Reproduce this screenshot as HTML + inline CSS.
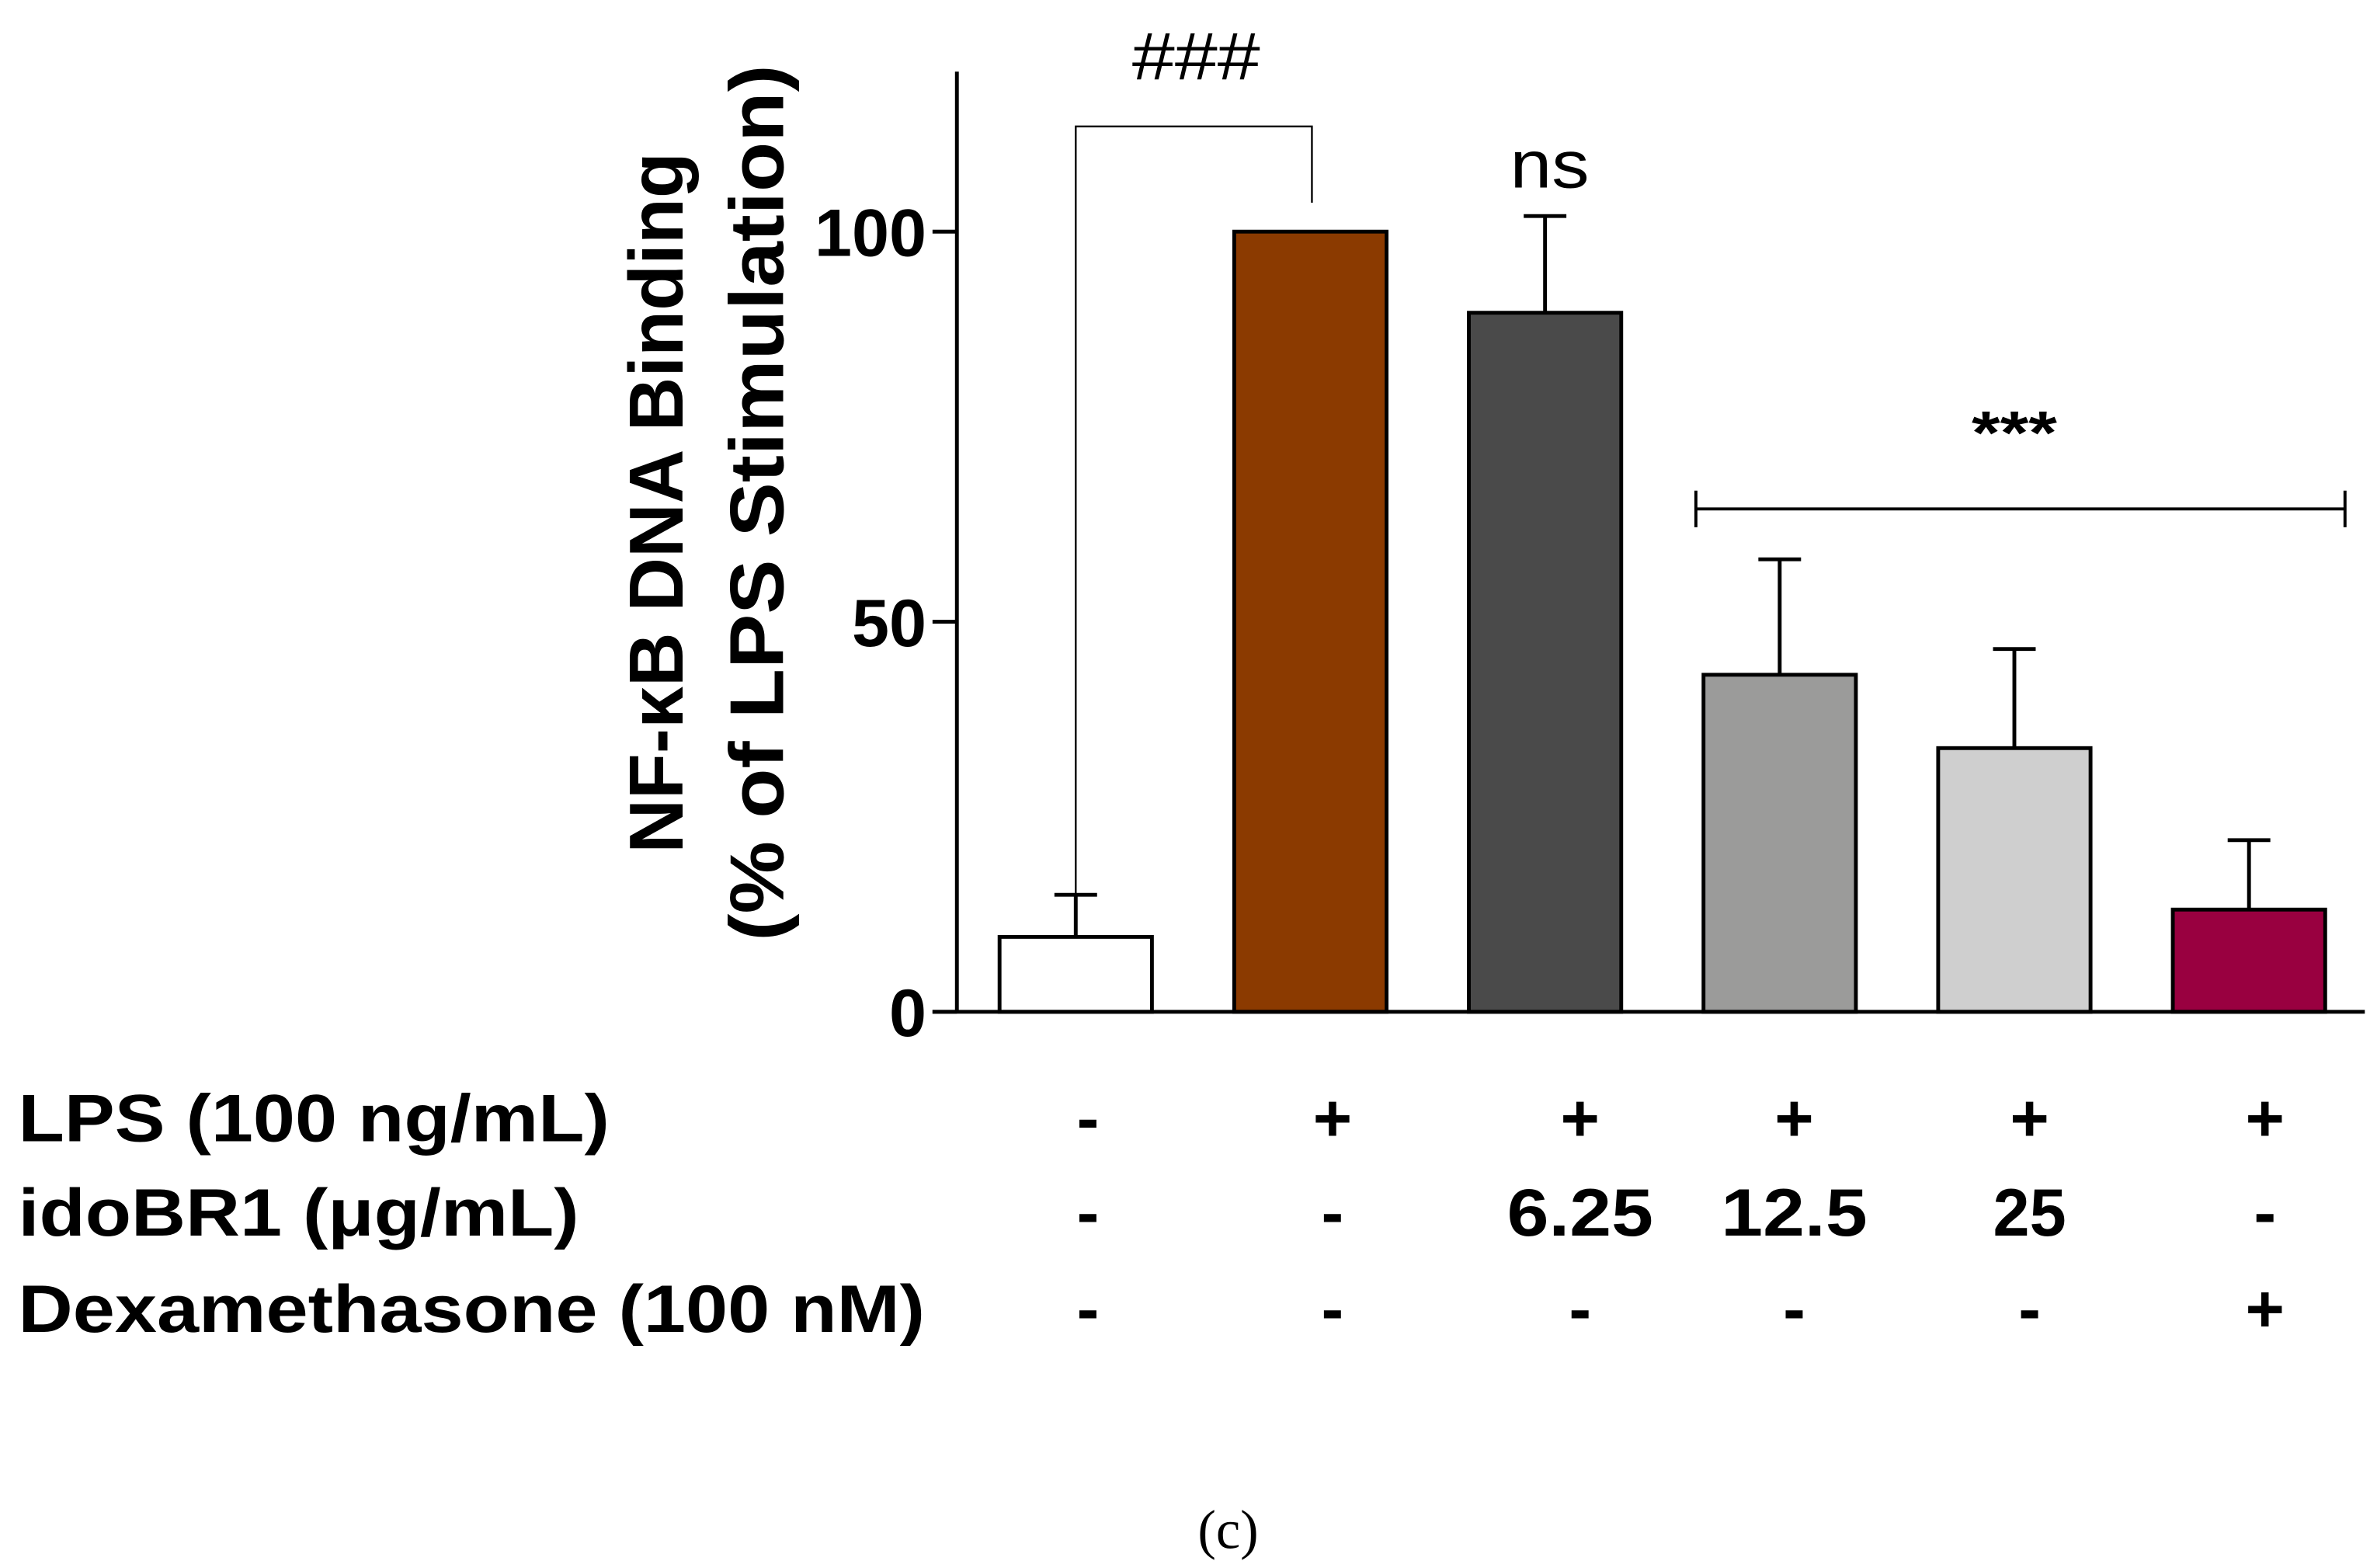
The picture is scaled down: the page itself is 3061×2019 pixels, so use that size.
<!DOCTYPE html>
<html><head><meta charset="utf-8"><style>
html,body{margin:0;padding:0;background:#fff;}
svg{display:block;}
text{font-family:"Liberation Sans",sans-serif;font-weight:bold;fill:#000;}
text.n{font-weight:normal;}
</style></head><body>
<svg id="chart" width="3061" height="2019" viewBox="0 0 1560 1029" preserveAspectRatio="none" xmlns="http://www.w3.org/2000/svg">
<g id="marks"></g>
<line x1="628" y1="47" x2="628" y2="665" stroke="#000" stroke-width="2.5"/>
<line x1="612" y1="664" x2="1552" y2="664" stroke="#000" stroke-width="2.5"/>
<g id="ticks"></g>
<g>
<text transform="translate(448,330) rotate(-90)" text-anchor="middle" font-size="50" textLength="460" lengthAdjust="spacingAndGlyphs">NF-κB DNA Binding</text>
<text transform="translate(514,330) rotate(-90)" text-anchor="middle" font-size="50" textLength="575" lengthAdjust="spacingAndGlyphs">(% of LPS Stimulation)</text>
</g>
<path d="M706,587 V83 H861 V133" fill="none" stroke="#000" stroke-width="1.2"/>
<text class="n" x="785" y="52" text-anchor="middle" font-size="44" textLength="84" lengthAdjust="spacingAndGlyphs">###</text>
<text class="n" x="1017" y="123" text-anchor="middle" font-size="44" textLength="52" lengthAdjust="spacingAndGlyphs">ns</text>
<path d="M1113,322 V346 M1113,334 H1539 M1539,322 V346" fill="none" stroke="#000" stroke-width="2"/>
<text x="1322" y="298" text-anchor="middle" font-size="40" textLength="56" lengthAdjust="spacingAndGlyphs">***</text>
<g id="rows"></g>
<text class="n" x="806" y="1016" text-anchor="middle" font-size="36" style="font-family:'Liberation Serif',serif">(c)</text>
</svg>
<script>
const categories = ["Control","LPS","LPS+idoBR1 6.25","LPS+idoBR1 12.5","LPS+idoBR1 25","LPS+Dex"];
const means = [9.6, 100, 89.6, 43.2, 33.8, 13.1];
const errors = [5.4, 0, 12.4, 14.8, 12.7, 8.9];
const colors = ["#ffffff","#8b3a00","#4a4a4a","#9b9b9a","#cfcfcf","#990040"];
const yTicks = [0, 50, 100];
const rowLabels = ["LPS (100 ng/mL)","idoBR1 (μg/mL)","Dexamethasone (100 nM)"];
const rowValues = [["-","+","+","+","+","+"],["-","-","6.25","12.5","25","-"],["-","-","-","-","-","+"]];

const NS="http://www.w3.org/2000/svg";
const y0=664, pxPerUnit=5.12;
function yScale(v){return y0 - v*pxPerUnit;}
function xScale(i){return 706 + i*154;}
function colScale(i){return 714 + i*154.5 + (i===2?14:0) + (i===1?6:0);}
const barW=100;
const marks=document.getElementById('marks');
categories.forEach((c,i)=>{
  const cx=xScale(i), top=yScale(means[i]);
  if(errors[i]>0){
    const e=document.createElementNS(NS,'path');
    const et=yScale(means[i]+errors[i]);
    e.setAttribute('d',`M${cx},${top} V${et} M${cx-14},${et} H${cx+14}`);
    e.setAttribute('stroke','#000');e.setAttribute('stroke-width','2.5');e.setAttribute('fill','none');
    
    
    marks.appendChild(e);
  }
  const r=document.createElementNS(NS,'rect');
  r.setAttribute('x',cx-barW/2);r.setAttribute('y',top);
  r.setAttribute('width',barW);r.setAttribute('height',y0-top);
  r.setAttribute('fill',colors[i]);r.setAttribute('stroke','#000');r.setAttribute('stroke-width','2.5');
  
  
  marks.appendChild(r);
});
const ticks=document.getElementById('ticks');
yTicks.forEach(t=>{
  const y=yScale(t);
  const l=document.createElementNS(NS,'line');
  l.setAttribute('x1',612);l.setAttribute('x2',628);l.setAttribute('y1',y);l.setAttribute('y2',y);
  l.setAttribute('stroke','#000');l.setAttribute('stroke-width','2.5');
  
  
  ticks.appendChild(l);
  const tx=document.createElementNS(NS,'text');
  tx.setAttribute('x',608);tx.setAttribute('y',y+16);tx.setAttribute('text-anchor','end');
  tx.setAttribute('font-size','44');
  tx.textContent=String(t);
  
  
  ticks.appendChild(tx);
});
const rows=document.getElementById('rows');
const rowY=[749,811,874];
const labelLen=[388,368,595];
rowLabels.forEach((lab,r)=>{
  const t=document.createElementNS(NS,'text');
  t.setAttribute('x',12);t.setAttribute('y',rowY[r]);t.setAttribute('font-size','44');
  t.setAttribute('textLength',labelLen[r]);t.setAttribute('lengthAdjust','spacingAndGlyphs');
  t.textContent=lab;
  
  
  rows.appendChild(t);
  rowValues[r].forEach((v,i)=>{
    const tv=document.createElementNS(NS,'text');
    tv.setAttribute('x',colScale(i));tv.setAttribute('y',rowY[r]);
    tv.setAttribute('text-anchor','middle');tv.setAttribute('font-size','44');
    if(v.length>1){tv.setAttribute('textLength',v.length*24);tv.setAttribute('lengthAdjust','spacingAndGlyphs');}
    tv.textContent=v;
    
    
    rows.appendChild(tv);
  });
});
</script>
</body></html>
